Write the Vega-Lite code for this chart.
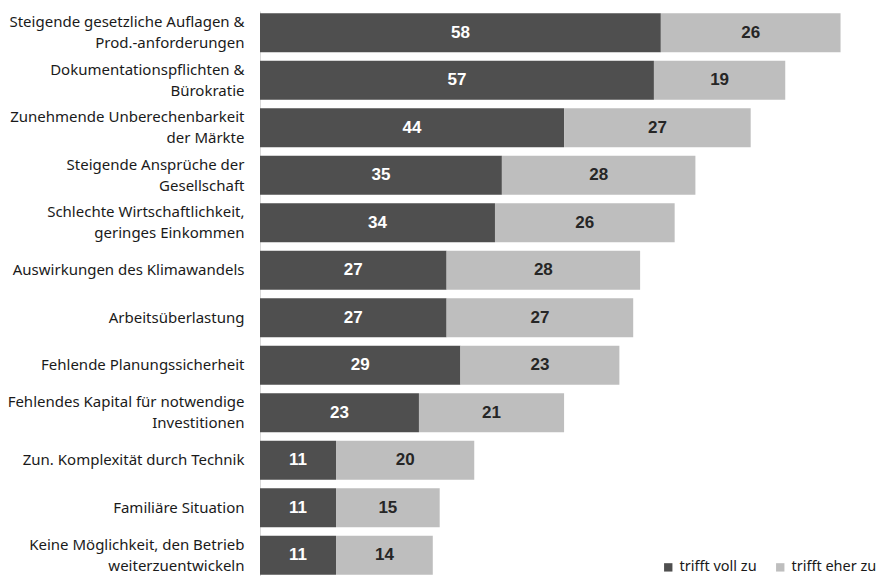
{
  "$schema": "https://vega.github.io/schema/vega-lite/v6.json",
  "width": 622,
  "height": 566,
  "padding": {"top": 11, "left": 7, "right": 2, "bottom": 0},
  "autosize": {"type": "pad"},
  "background": "white",
  "config": {"view": {"stroke": null}, "font": "Noto Sans"},
  "data": {
    "values": [
      {"cat": "Steigende gesetzliche Auflagen &|Prod.-anforderungen", "o": 1, "typ": "trifft voll zu", "v": 58},
      {"cat": "Steigende gesetzliche Auflagen &|Prod.-anforderungen", "o": 1, "typ": "trifft eher zu", "v": 26},
      {"cat": "Dokumentationspflichten &|Bürokratie", "o": 2, "typ": "trifft voll zu", "v": 57},
      {"cat": "Dokumentationspflichten &|Bürokratie", "o": 2, "typ": "trifft eher zu", "v": 19},
      {"cat": "Zunehmende Unberechenbarkeit|der Märkte", "o": 3, "typ": "trifft voll zu", "v": 44},
      {"cat": "Zunehmende Unberechenbarkeit|der Märkte", "o": 3, "typ": "trifft eher zu", "v": 27},
      {"cat": "Steigende Ansprüche der|Gesellschaft", "o": 4, "typ": "trifft voll zu", "v": 35},
      {"cat": "Steigende Ansprüche der|Gesellschaft", "o": 4, "typ": "trifft eher zu", "v": 28},
      {"cat": "Schlechte Wirtschaftlichkeit,|geringes Einkommen", "o": 5, "typ": "trifft voll zu", "v": 34},
      {"cat": "Schlechte Wirtschaftlichkeit,|geringes Einkommen", "o": 5, "typ": "trifft eher zu", "v": 26},
      {"cat": "Auswirkungen des Klimawandels", "o": 6, "typ": "trifft voll zu", "v": 27},
      {"cat": "Auswirkungen des Klimawandels", "o": 6, "typ": "trifft eher zu", "v": 28},
      {"cat": "Arbeitsüberlastung", "o": 7, "typ": "trifft voll zu", "v": 27},
      {"cat": "Arbeitsüberlastung", "o": 7, "typ": "trifft eher zu", "v": 27},
      {"cat": "Fehlende Planungssicherheit", "o": 8, "typ": "trifft voll zu", "v": 29},
      {"cat": "Fehlende Planungssicherheit", "o": 8, "typ": "trifft eher zu", "v": 23},
      {"cat": "Fehlendes Kapital für notwendige|Investitionen", "o": 9, "typ": "trifft voll zu", "v": 23},
      {"cat": "Fehlendes Kapital für notwendige|Investitionen", "o": 9, "typ": "trifft eher zu", "v": 21},
      {"cat": "Zun. Komplexität durch Technik", "o": 10, "typ": "trifft voll zu", "v": 11},
      {"cat": "Zun. Komplexität durch Technik", "o": 10, "typ": "trifft eher zu", "v": 20},
      {"cat": "Familiäre Situation", "o": 11, "typ": "trifft voll zu", "v": 11},
      {"cat": "Familiäre Situation", "o": 11, "typ": "trifft eher zu", "v": 15},
      {"cat": "Keine Möglichkeit, den Betrieb|weiterzuentwickeln", "o": 12, "typ": "trifft voll zu", "v": 11},
      {"cat": "Keine Möglichkeit, den Betrieb|weiterzuentwickeln", "o": 12, "typ": "trifft eher zu", "v": 14}
    ]
  },
  "transform": [
    {"calculate": "datum.typ === 'trifft voll zu' ? 0 : 1", "as": "so"},
    {"stack": "v", "groupby": ["cat"], "sort": [{"field": "so"}], "as": ["v0", "v1"]},
    {"calculate": "(datum.v0 + datum.v1) / 2", "as": "mid"}
  ],
  "encoding": {
    "y": {
      "field": "cat",
      "type": "nominal",
      "sort": {"field": "o", "op": "min"},
      "scale": {"paddingInner": 0.18, "paddingOuter": 0.05},
      "axis": {
        "title": null,
        "ticks": false,
        "domainColor": "#d9d9d9",
        "labelExpr": "split(datum.label, '|')",
        "labelFontSize": 15,
        "labelColor": "#1a1a1a",
        "labelPadding": 16,
        "labelLimit": 300,
        "labelLineHeight": 21,
        "labelOffset": {"condition": {"test": "indexof(datum.value, '|') >= 0", "value": -10.5}, "value": 0}
      }
    }
  },
  "layer": [
    {
      "mark": {"type": "bar"},
      "encoding": {
        "x": {"field": "v0", "type": "quantitative", "scale": {"domain": [0, 90]}, "axis": null},
        "x2": {"field": "v1"},
        "color": {
          "field": "typ",
          "type": "nominal",
          "sort": ["trifft voll zu", "trifft eher zu"],
          "scale": {"domain": ["trifft voll zu", "trifft eher zu"], "range": ["#4f4f4f", "#bebebe"]},
          "legend": {
            "title": null,
            "orient": "none",
            "direction": "horizontal",
            "legendX": 401,
            "legendY": 549,
            "symbolType": "square",
            "symbolSize": 70,
            "symbolStrokeWidth": 0,
            "labelFontSize": 14.5,
            "labelColor": "#1a1a1a",
            "columnPadding": 16,
            "labelOffset": 4
          }
        }
      }
    },
    {
      "mark": {"type": "text", "font": "Liberation Sans", "fontWeight": "bold", "fontSize": 17, "baseline": "middle"},
      "encoding": {
        "x": {"field": "mid", "type": "quantitative"},
        "text": {"field": "v", "type": "quantitative"},
        "color": {
          "condition": {"test": "datum.typ === 'trifft voll zu'", "value": "white"},
          "value": "#262626"
        }
      }
    }
  ]
}
